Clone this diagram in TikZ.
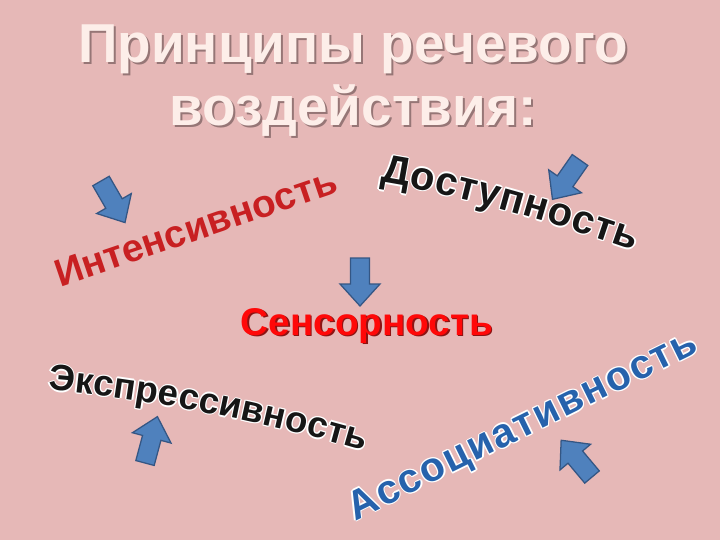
\documentclass[tikz,border=0pt]{standalone}
\usepackage{fontspec}
\setmainfont{Liberation Sans}
\setsansfont{Liberation Sans}
\usetikzlibrary{decorations.text}

\definecolor{slidebg}{RGB}{230,184,183}
\definecolor{titlefill}{RGB}{253,238,233}
\definecolor{titleshade}{RGB}{150,118,118}
\definecolor{intred}{RGB}{200,32,34}
\definecolor{sensred}{RGB}{255,8,8}
\definecolor{sensshade}{RGB}{140,20,20}
\definecolor{wordblack}{RGB}{22,22,22}
\definecolor{assblue}{RGB}{38,98,172}
\definecolor{arrowblue}{RGB}{79,129,189}
\definecolor{arrowedge}{RGB}{52,86,132}

\tikzset{
  headline/.style={font=\fontsize{39}{44}\selectfont\bfseries, anchor=base, inner sep=0pt},
  sensword/.style={font=\fontsize{27.5}{30}\selectfont\bfseries, anchor=base, inner sep=0pt},
  arrowfill/.style={fill=arrowblue, draw=arrowedge, line width=0.9pt, line join=miter},
  bluearrow/.pic={\draw[arrowfill] (0,-9.5) -- (26,-9.5) -- (26,-20) -- (48,0) -- (26,20) -- (26,9.5) -- (0,9.5) -- cycle;},
}

% word along a path: #1 path, #2 colour, #3 font, #4 text
\newcommand\wordalong[4]{%
  \path[decorate,decoration={text along path,text align=fit to path,
    text color=#2,text={|#3|#4}}] #1;}
% same, with a white rim
\newcommand\rimword[4]{%
  \foreach \dx/\dy in {1.3/0,-1.3/0,0/1.3,0/-1.3,.9/.9,-.9/.9,.9/-.9,-.9/-.9}{
    \begin{scope}[shift={(\dx,\dy)}]\wordalong{#1}{white}{#3}{#4}\end{scope}}
  \wordalong{#1}{#2}{#3}{#4}}

\begin{document}
\begin{tikzpicture}[x=0.025cm,y=0.025cm]
\fill[slidebg] (0,0) rectangle (720,-540);
\useasboundingbox (0,0) rectangle (720,-540);

% title
\node[headline,text=titleshade] (titleAs) at (355,-64) {Принципы речевого};
\node[headline,text=titleshade] (titleBs) at (355,-127) {воздействия:};
\node[headline,text=titlefill] (titleA) at (353,-62) {Принципы речевого};
\node[headline,text=titlefill] (titleB) at (353,-125) {воздействия:};

% the five words
\wordalong{(60,-287) -- (334,-194)}{intred}{\fontsize{27.5}{30}\selectfont\bfseries}{Интенсивность}
\rimword{(380,-182) .. controls (450,-193) and (540,-218) .. (634,-251)}{wordblack}{\fontsize{28.5}{30}\selectfont\bfseries}{Доступность}
\rimword{(48,-390) .. controls (130,-396) and (260,-420) .. (364,-451)}{wordblack}{\fontsize{26}{30}\selectfont\bfseries}{Экспрессивность}
\rimword{(355,-521) -- (700,-351)}{assblue}{\fontsize{29}{30}\selectfont\bfseries}{Ассоциативность}

\node[sensword,text=sensshade] (sensS) at (368.5,-336.5) {Сенсорность};
\node[sensword,text=sensred] (sens) at (367,-335) {Сенсорность};

% arrows
\pic[rotate=-60] at (101,-181) {bluearrow};
\pic[rotate=-125] at (580,-160) {bluearrow};
\pic[rotate=-90] at (360,-258) {bluearrow};
\pic[rotate=75] at (145,-463) {bluearrow};
\pic[rotate=130] at (592,-477) {bluearrow};
\end{tikzpicture}
\end{document}
